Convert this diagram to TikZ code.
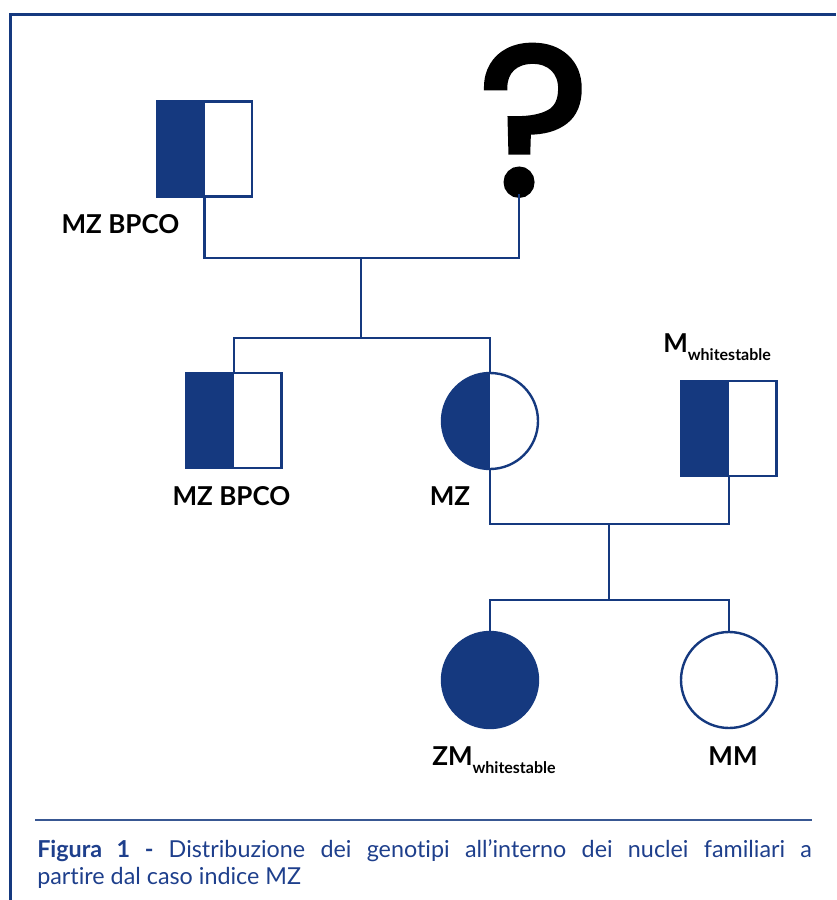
\documentclass[tikz,border=0pt]{standalone}
\usepackage{fontspec}
\setmainfont{Lato}[Ligatures={NoCommon,NoDiscretionary,NoRare}]
\newfontfamily\qmfont{Poppins}[FakeBold=2.5]
\usepackage{xcolor,tikz}
\newcommand{\ws}{\raisebox{-6.4pt}{\fontsize{12}{12}\selectfont whitestable}}
\definecolor{ped}{HTML}{15397F}
\definecolor{capblue}{HTML}{1E3F8C}

\begin{document}
\begin{tikzpicture}[x=0.75pt,y=-0.75pt,
  line/.style={ped,line width=1.6pt},
  male/.style={rectangle,draw=ped,line width=1.8pt,minimum size=71pt,inner sep=0pt},
  female/.style={circle,draw=ped,line width=1.8pt,minimum size=72pt,inner sep=0pt},
  half/.style={path picture={\fill[ped] (path picture bounding box.north west) rectangle (path picture bounding box.south);}},
  affected/.style={fill=ped},
  lbl/.style={font=\fontsize{19.5}{20}\selectfont\bfseries,inner sep=0pt}]
  \useasboundingbox (0,0) rectangle (836,900);
  % frame
  \draw[ped,line width=2.2pt] (10.5,900) -- (10.5,14.5) -- (836,14.5);
  % first generation
  \node[male,half] (gf) at (204.5,149) {};
  \node[font=\qmfont\fontsize{158}{158}\selectfont,anchor=base,inner sep=0pt] (qm) at (534,194) {?};
  \coordinate (qmdot) at (519,194);
  \node[lbl,anchor=base] (gflbl) at (120.5,233) {MZ BPCO};
  % second generation
  \node[male,half] (uncle) at (234,420.5) {};
  \node[female,half] (mz) at (490,421) {};
  \node[male,half] (mw) at (729,428.5) {};
  \node[lbl,anchor=base] (unclelbl) at (231.5,505) {MZ BPCO};
  \node[lbl,anchor=base] (mzlbl) at (450,505) {MZ};
  \node[lbl,anchor=base west] (mwlbl) at (663,352) {M\ws};
  % third generation
  \node[female,affected] (zm) at (490,680) {};
  \node[female] (mm) at (729,680) {};
  \node[lbl,anchor=base west] (zmlbl) at (432,765) {ZM\ws};
  \node[lbl,anchor=base] (mmlbl) at (733,765) {MM};
  % lines of descent
  \coordinate (m1) at (361,258);
  \coordinate (s1) at (361,338);
  \coordinate (m2) at (609,524);
  \coordinate (s2) at (609,600);
  \draw[line] (gf.south) |- (m1) -| (qmdot);
  \draw[line] (m1) -- (s1);
  \draw[line] (uncle.north) |- (s1) -| (mz.north);
  \draw[line] (mz.south) |- (m2) -| (mw.south);
  \draw[line] (m2) -- (s2);
  \draw[line] (zm.north) |- (s2) -| (mm.north);
  % caption
  \draw[ped!85,line width=0.8pt] (35,820) -- (812,820);
  \node[anchor=north west,text width=581pt,align=justify,inner sep=0pt,text=capblue,
    font=\fontsize{17.5}{20.25}\selectfont] (cap) at (37,839)
    {\textbf{Figura 1 -} Distribuzione dei genotipi all’interno dei nuclei familiari a\linebreak partire dal caso indice MZ};
\end{tikzpicture}
\end{document}
